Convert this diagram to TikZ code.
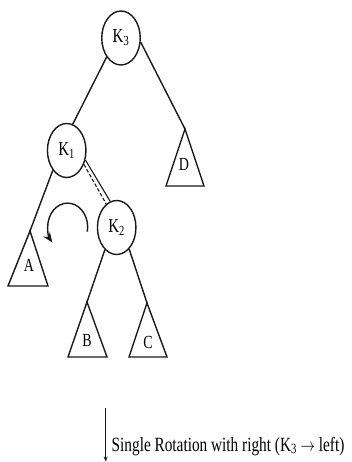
\documentclass[tikz,border=0pt]{standalone}
\usepackage{fontspec}
\setmainfont{Liberation Serif}
\usetikzlibrary{arrows.meta,shapes.geometric}
\newcommand\vstretch[1]{\scalebox{1}[1.32]{#1}}
\begin{document}
\begin{tikzpicture}[x=1pt,y=-1pt,
  key/.style={draw=black!90, ellipse, minimum width=38.5pt, minimum height=54pt,
              inner sep=0pt, line width=1.4pt, font=\fontsize{15}{17}\selectfont},
  edge/.style={draw=black!90, line width=1.4pt},
  tri/.style={draw=black!90, line width=1.4pt, line join=miter},
  lbl/.style={inner sep=0pt, font=\fontsize{14}{16}\selectfont}]
\useasboundingbox[fill=white] (0,0) rectangle (351,462);

% key nodes
\node[key] (K3) at (121,38)     {\vstretch{K\textsubscript{3}}};
\node[key] (K1) at (66.7,150.5) {\vstretch{K\textsubscript{1}}};
\node[key] (K2) at (116.7,227.5){\vstretch{K\textsubscript{2}}};

% subtrees
\coordinate (Dtop) at (185,129);
\draw[tri] (Dtop) -- (204,186) -- (166,186) -- cycle;
\node[lbl] (D) at (184,164) {\vstretch{D}};

\coordinate (Atop) at (30,231);
\draw[tri] (Atop) -- (48,286) -- (8,286) -- cycle;
\node[lbl] (A) at (29,265) {\vstretch{A}};

\coordinate (Btop) at (87,302);
\draw[tri] (Btop) -- (107,357) -- (68,357) -- cycle;
\node[lbl] (B) at (87,340) {\vstretch{B}};

\coordinate (Ctop) at (147,303);
\draw[tri] (Ctop) -- (167,357) -- (129,357) -- cycle;
\node[lbl] (C) at (148,342) {\vstretch{C}};

% edges
\draw[edge] (K3.-127) -- (K1.77);
\draw[edge] (K3.-12) -- (Dtop);
\draw[edge] (K1.-125) -- (Atop);
\draw[edge, line width=1.1pt] (K1.-27) -- (K2.104);
\draw[edge, line width=1.1pt, dash pattern=on 3.5pt off 2pt] (K1.-39) -- (K2.114);
\draw[edge] (K2.-118) -- (Btop);
\draw[edge] (K2.-60) -- (Ctop);

% rotation arrow
\coordinate (rotS) at (87.3,231.7);
\draw[edge, -{Stealth[length=10pt,width=8pt]}] (rotS)
  arc[start angle=11, end angle=-220, x radius=20, y radius=24];

% bottom arrow and caption
\coordinate (arrS) at (105.7,408);
\coordinate (arrE) at (105.7,461.5);
\draw[draw=black!90, line width=1pt, -{Stealth[length=5pt,width=4pt]}] (arrS) -- (arrE);
\node[anchor=base west, inner sep=0pt, font=\fontsize{15.3}{17}\selectfont] (cap) at (111.5,451)
  {\vstretch{Single Rotation with right (K\textsubscript{3} $\rightarrow$ left)}};
\end{tikzpicture}
\end{document}
